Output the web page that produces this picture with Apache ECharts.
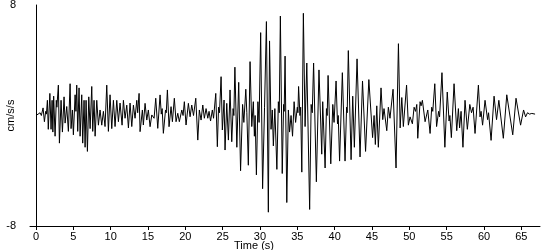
<!DOCTYPE html>
<html><head><meta charset="utf-8">
<script src="https://cdn.jsdelivr.net/npm/echarts@6/dist/echarts.min.js"></script>
<style>html,body{margin:0;padding:0;background:#fff}#c{width:550px;height:250px}</style>
</head><body><div id="c"></div>
<script>
// Time (s) of each sample
const times = [
0,0.28,0.55,0.72,0.95,1.13,1.3,1.4,1.53,1.65,1.86,2.02,2.16,2.26,2.37,2.56,2.72,2.8,3.0,3.14,
3.36,3.54,3.76,3.9,4.12,4.34,4.57,4.7,4.88,5.01,5.24,5.35,5.46,5.59,5.77,5.91,6.13,6.26,6.44,6.58,
6.71,6.89,7.07,7.25,7.47,7.6,7.78,7.92,8.14,8.36,8.58,8.81,9.03,9.25,9.48,9.7,9.92,10.15,10.37,10.59,
10.82,11.04,11.26,11.53,11.71,11.93,12.16,12.38,12.6,12.83,13.05,13.27,13.5,13.62,13.81,13.94,14.25,14.38,14.61,14.84,
15.05,15.28,15.51,15.82,16.04,16.31,16.62,16.78,16.9,17.06,17.35,17.45,17.6,17.82,18.09,18.27,18.53,18.76,18.99,19.2,
19.53,19.7,19.87,20.1,20.41,20.64,20.86,21.1,21.4,21.67,21.88,22.11,22.34,22.55,22.78,23.01,23.18,23.38,23.62,23.78,
24.08,24.29,24.45,24.58,24.79,24.96,25.19,25.32,25.55,25.77,25.99,26.22,26.4,26.5,26.64,26.9,27.15,27.4,27.67,27.84,
28.1,28.24,28.44,28.67,28.9,29.11,29.25,29.35,29.52,29.72,29.88,30.09,30.35,30.61,30.86,31.12,31.28,31.48,31.65,31.79,
31.99,32.26,32.46,32.58,32.73,32.98,33.16,33.24,33.36,33.59,33.8,33.96,34.16,34.36,34.57,34.77,35.0,35.08,35.17,35.35,
35.45,35.6,35.81,36.04,36.27,36.65,36.85,37.0,37.18,37.55,37.9,38.27,38.4,38.72,38.9,39.0,39.12,39.48,39.75,39.92,
40.19,40.38,40.48,40.66,41.03,41.39,41.6,41.68,41.83,42.2,42.42,42.64,43.0,43.4,43.73,44.14,44.58,45.08,45.28,45.45,
45.64,45.85,46.21,46.44,46.61,46.98,47.19,47.41,47.82,48.22,48.54,48.77,48.99,49.2,49.63,49.87,50.1,50.41,50.64,50.83,
51.0,51.13,51.44,51.57,51.75,52.11,52.47,52.78,53.0,53.14,53.41,53.65,53.92,54.05,54.37,54.76,55.08,55.32,55.43,55.63,
55.99,56.35,56.57,56.73,56.93,57.18,57.46,57.77,58.1,58.33,58.54,58.8,59.25,59.47,59.61,59.81,60.14,60.48,60.61,60.95,
61.35,61.68,61.99,62.59,63.05,63.85,64.29,64.9,65.3,65.57,65.83,66.1,66.4,66.84
];
// Acceleration (cm/s/s) at each sample
const values = [
0,0.1,0.2,0.0,0.55,-0.45,0.3,0.1,1.1,-1.0,1.6,-1.0,1.1,-1.2,1.4,-1.5,1.1,0.6,2.2,-2.0,
1.1,-1.2,1.35,-0.55,0.65,-1.15,2.3,-0.95,0.4,-1.4,1.5,0.3,2.2,-1.15,2.0,-1.5,1.5,-2.0,1.1,-2.3,
1.1,-2.6,1.35,-0.95,2.1,-1.15,1.1,-1.5,1.1,-0.7,0.4,-0.7,0.3,-0.8,2.2,-1.15,1.5,-0.95,1.1,-0.8,
1.1,-0.45,0.9,-0.7,1.1,-0.2,0.75,-0.9,0.9,-0.8,0.75,-0.2,1.1,0.2,1.6,-1.17,0.4,-0.69,0.88,-0.33,
0.4,-0.81,0.04,-0.2,1.25,-0.93,1.49,0.1,0.5,-1.29,0.4,0.2,1.85,-0.81,0.64,-0.45,1.25,-0.45,0.16,-0.45,
0.4,0.0,1.0,-0.69,0.88,-0.09,0.76,0.0,1.25,-1.78,0.4,-0.33,0.76,-0.2,0.5,-0.2,0.3,-0.4,0.4,-0.2,
1.6,-2.26,0.6,0.2,2.81,-1.05,1.12,-2.5,0.88,-1.78,1.85,-1.9,0.5,0.0,3.5,-2.3,2.4,-4.0,0.8,-0.5,
1.9,0.2,-3.6,3.9,-0.8,1.0,-1.5,0.0,-4.3,1.0,-0.5,6.0,-5.3,0.6,6.8,-7.0,5.4,-1.0,0.4,-2.2,
0.5,-3.9,1.0,0.2,7.2,-4.2,0.8,0.3,4.3,-6.3,0.4,-1.2,0.0,-1.5,1.0,-0.5,0.6,0.2,2.1,0.0,
0.6,-4.1,7.4,-0.8,3.8,-6.8,0.8,0.2,3.8,-4.8,3.3,-2.8,1.0,-3.8,0.5,0.0,2.9,-3.5,0.8,-0.5,
2.5,-0.6,0.0,-3.3,3.1,-3.3,0.6,0.2,4.7,-3.2,1.4,-2.3,4.1,-3.0,2.5,-2.6,2.6,-1.6,0.0,-2.1,
0.7,-2.3,2.0,-0.3,0.5,-1.1,0.6,-0.2,1.9,-3.8,5.2,-0.9,1.3,-0.8,2.2,-0.7,-0.1,-0.6,0.6,0.3,
0.8,-1.65,1.0,0.7,1.1,-0.45,0.4,-1.3,0.6,0.3,2.3,-0.8,0.3,-0.1,3.1,-2.3,1.7,-0.4,0.0,-1.6,
2.3,-1.1,0.5,-0.9,0.3,-2.3,1.1,-1.0,0.8,0.2,0.6,-1.3,2.2,-0.1,0.3,-0.7,1.1,-0.3,0.2,-1.8,
1.4,-0.3,1.1,-1.65,1.5,-1.4,1.25,-0.7,0.4,-0.1,0.2,0.1,0.15,0.1
];
const xTickValues = [0,5,10,15,20,25,30,35,40,45,50,55,60,65];
const yTickValues = [-8, 8];
const xTitle = 'Time (s)';
const yTitle = 'cm/s/s';

const font = '"Liberation Sans", Arial, sans-serif';
const chart = echarts.init(document.getElementById('c'), null, {renderer: 'canvas'});
chart.setOption({
  animation: false,
  backgroundColor: '#fff',
  grid: {left: 30, right: 10, top: 5, bottom: 24, containLabel: false, outerBoundsMode: 'none'},
  xAxis: {
    type: 'value', min: -0.8, max: 67.5,
    name: xTitle, nameLocation: 'middle', nameGap: 14, nameMoveOverlap: false,
    nameTextStyle: {color: '#000', fontFamily: font, fontSize: 11, padding: [0, 62, 0, 0]},
    axisLine: {onZero: false, lineStyle: {color: '#000', width: 1}},
    axisTick: {show: true, length: 4, customValues: xTickValues, lineStyle: {color: '#000'}},
    axisLabel: {customValues: xTickValues, color: '#000', fontFamily: font, fontSize: 11, margin: 5},
    splitLine: {show: false}
  },
  yAxis: {
    type: 'value', min: -8, max: 8,
    name: yTitle, nameLocation: 'middle', nameGap: 14, nameRotate: 90, nameMoveOverlap: false,
    nameTextStyle: {color: '#000', fontFamily: font, fontSize: 11},
    axisLine: {onZero: true, lineStyle: {color: '#000', width: 1}},
    axisTick: {show: false},
    axisLabel: {customValues: yTickValues, color: '#000', fontFamily: font, fontSize: 11, margin: 14},
    splitLine: {show: false}
  },
  series: [{
    type: 'line',
    data: times.map((t, i) => [t, values[i]]),
    showSymbol: false,
    lineStyle: {color: '#000', width: 1},
    itemStyle: {color: '#000'}
  }]
});
</script>
</body></html>
